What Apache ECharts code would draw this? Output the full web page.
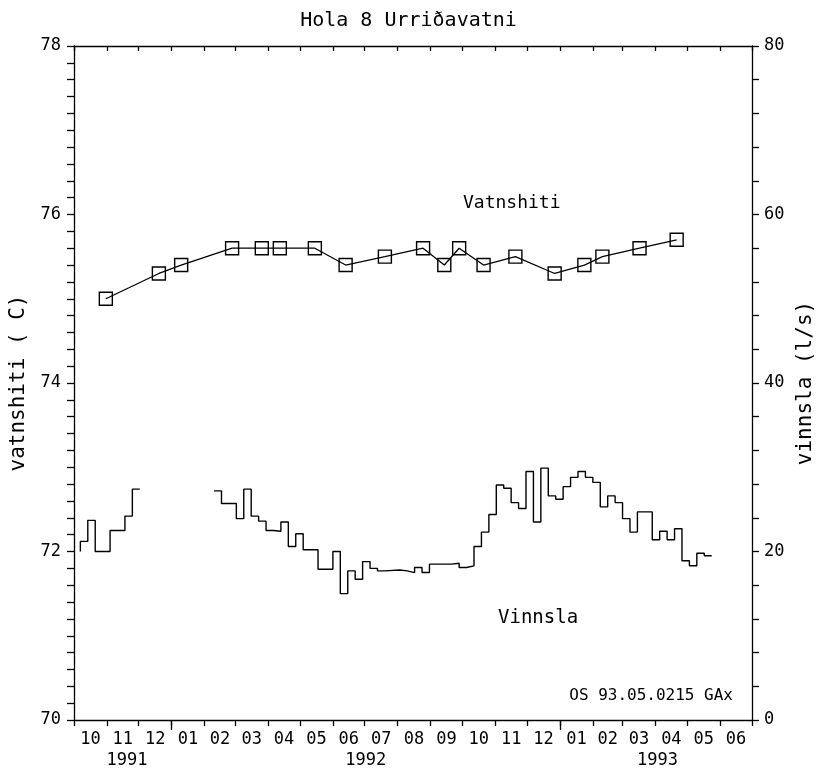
<!DOCTYPE html>
<html>
<head>
<meta charset="utf-8">
<title>Hola 8 Urriðavatni</title>
<script src="https://cdn.jsdelivr.net/npm/echarts@6/dist/echarts.min.js"></script>
<style>
  html, body { margin: 0; padding: 0; background: #fff; }
  #chart { width: 817px; height: 775px; }
</style>
</head>
<body>
<div id="chart"></div>
<script>
// Month boundaries of the time axis and the month numbers shown between them
const monthStarts = [
  '1991-10-01', '1991-11-01', '1991-12-01', '1992-01-01', '1992-02-01', '1992-03-01',
  '1992-04-01', '1992-05-01', '1992-06-01', '1992-07-01', '1992-08-01', '1992-09-01',
  '1992-10-01', '1992-11-01', '1992-12-01', '1993-01-01', '1993-02-01', '1993-03-01',
  '1993-04-01', '1993-05-01', '1993-06-01', '1993-07-01'
];
const monthLabels = [
  '10', '11', '12', '01', '02', '03', '04', '05', '06', '07', '08',
  '09', '10', '11', '12', '01', '02', '03', '04', '05', '06'
];
const yearStarts = ['1992-01-01', '1993-01-01'];
const yearLabelDates = ['1991-11-20', '1992-07-02', '1993-04-03'];
const yearLabels = ['1991', '1992', '1993'];

// Water temperature (C), single measurements
const tempDates = [
  '1991-10-31', '1991-12-20', '1992-01-10', '1992-02-27', '1992-03-26', '1992-04-12',
  '1992-05-15', '1992-06-13', '1992-07-20', '1992-08-25', '1992-09-14', '1992-09-28',
  '1992-10-21', '1992-11-20', '1992-12-27', '1993-01-24', '1993-02-10', '1993-03-17',
  '1993-04-21'
];
const tempValues = [
  75.0, 75.3, 75.4, 75.6, 75.6, 75.6,
  75.6, 75.4, 75.5, 75.6, 75.4, 75.6,
  75.4, 75.5, 75.3, 75.4, 75.5, 75.6,
  75.7
];

// Production (l/s), weekly values held until the next date; null marks the data gap
const flowDates = [
  '1991-10-07', '1991-10-07', '1991-10-14', '1991-10-21', '1991-11-04', '1991-11-18',
  '1991-11-25', '1991-12-02', '1991-12-02',
  '1992-02-10', '1992-02-17', '1992-03-02', '1992-03-09', '1992-03-16', '1992-03-23',
  '1992-03-30', '1992-04-06', '1992-04-13', '1992-04-20', '1992-04-27', '1992-05-04',
  '1992-05-18', '1992-06-01', '1992-06-08', '1992-06-15', '1992-06-22', '1992-06-29',
  '1992-07-06', '1992-07-13', '1992-07-20', '1992-08-03', '1992-08-10', '1992-08-17',
  '1992-08-24', '1992-08-31', '1992-09-21', '1992-09-28', '1992-10-05', '1992-10-12',
  '1992-10-19', '1992-10-26', '1992-11-02', '1992-11-09', '1992-11-16', '1992-11-23',
  '1992-11-30', '1992-12-07', '1992-12-14', '1992-12-21', '1992-12-28', '1993-01-04',
  '1993-01-11', '1993-01-18', '1993-01-25', '1993-02-01', '1993-02-08', '1993-02-15',
  '1993-02-22', '1993-03-01', '1993-03-08', '1993-03-15', '1993-03-29', '1993-04-05',
  '1993-04-12', '1993-04-19', '1993-04-26', '1993-05-03', '1993-05-10', '1993-05-17',
  '1993-05-24'
];
const flowValues = [
  20.0, 21.2, 23.7, 20.0, 22.5, 24.2,
  27.4, 27.4, null,
  27.2, 25.7, 23.9, 27.4, 24.2, 23.6,
  22.5, 22.4, 23.5, 20.6, 22.1, 20.2,
  17.9, 20.0, 15.0, 17.7, 16.7, 18.8,
  18.0, 17.7, 17.8, 17.7, 17.5, 18.1,
  17.5, 18.5, 18.6, 18.1, 18.3, 20.6,
  22.3, 24.4, 27.9, 27.5, 25.8, 25.1,
  29.5, 23.5, 29.9, 26.6, 26.2, 27.7,
  28.8, 29.5, 28.8, 28.2, 25.3, 26.6,
  25.8, 23.9, 22.3, 24.7, 21.4, 22.4,
  21.4, 22.7, 18.9, 18.3, 19.8, 19.5,
  19.5
];

const FONT = 'DejaVu Sans Mono';
const INK = '#000';
// dates become day numbers (UTC) on a plain value axis
const DAY = 86400000;
const ts = s => Date.parse(s + 'T00:00:00Z') / DAY;

const tickTimes = monthStarts.map(ts);
const labelTimes = [];
const labelByTime = {};
for (let i = 0; i < monthLabels.length; i++) {
  const mid = (tickTimes[i] + tickTimes[i + 1]) / 2;
  labelTimes.push(mid);
  labelByTime[mid] = monthLabels[i];
}
const yearTimes = yearLabelDates.map(ts);
const yearByTime = {};
yearTimes.forEach((t, i) => { yearByTime[t] = yearLabels[i]; });

const xMin = tickTimes[0];
const xMax = tickTimes[tickTimes.length - 1];

const tempData = tempDates.map((d, i) => [ts(d), tempValues[i]]);
const flowData = flowDates.map((d, i) => [ts(d), flowValues[i]]);

const lineStyle = { color: INK, width: 1.3 };
const labelFont = { color: INK, fontFamily: FONT, fontSize: 17 };

const chart = echarts.init(document.getElementById('chart'), null, { renderer: 'canvas' });

chart.setOption({
  backgroundColor: '#fff',
  animation: false,
  title: {
    text: 'Hola 8 Urriðavatni',
    left: 'center',
    top: 6,
    textStyle: { color: INK, fontFamily: FONT, fontSize: 20, fontWeight: 'normal' }
  },
  grid: { left: 74, right: 65, top: 46, bottom: 55, outerBoundsMode: 'none', containLabel: false },
  xAxis: [
    {
      type: 'value', min: xMin, max: xMax, position: 'bottom',
      axisLine: { show: true, lineStyle },
      axisTick: { show: true, inside: false, length: 6, customValues: tickTimes, lineStyle },
      axisLabel: {
        show: true, margin: 11, customValues: labelTimes, hideOverlap: false,
        formatter: v => labelByTime[v] || '', ...labelFont
      },
      splitLine: { show: false }
    },
    {
      type: 'value', min: xMin, max: xMax, position: 'bottom',
      axisLine: { show: false },
      axisTick: { show: true, inside: false, length: 10, customValues: yearStarts.map(ts), lineStyle },
      axisLabel: {
        show: true, margin: 32, customValues: yearTimes, hideOverlap: false,
        formatter: v => yearByTime[v] || '', ...labelFont
      },
      splitLine: { show: false }
    },
    {
      type: 'value', min: xMin, max: xMax, position: 'top',
      axisLine: { show: true, lineStyle },
      axisTick: { show: true, inside: true, length: 5, customValues: tickTimes, lineStyle },
      axisLabel: { show: false },
      splitLine: { show: false }
    }
  ],
  yAxis: [
    {
      type: 'value', min: 70, max: 78, interval: 2, position: 'left',
      name: 'vatnshiti ( C)', nameLocation: 'middle', nameGap: 45, nameRotate: 90,
      nameTextStyle: { color: INK, fontFamily: FONT, fontSize: 21 },
      axisLine: { show: true, lineStyle },
      axisTick: { show: true, inside: false, length: 7, lineStyle },
      minorTick: { show: true, splitNumber: 10, length: 7, lineStyle },
      axisLabel: { margin: 13, ...labelFont },
      splitLine: { show: false }
    },
    {
      type: 'value', min: 0, max: 80, interval: 20, position: 'right',
      name: 'vinnsla (l/s)', nameLocation: 'middle', nameGap: 36, nameRotate: 90,
      nameTextStyle: { color: INK, fontFamily: FONT, fontSize: 21 },
      axisLine: { show: true, lineStyle },
      axisTick: { show: true, inside: false, length: 7, lineStyle },
      minorTick: { show: true, splitNumber: 5, length: 7, lineStyle },
      axisLabel: { margin: 12, ...labelFont },
      splitLine: { show: false }
    }
  ],
  graphic: [
    {
      type: 'text', left: 463, top: 194,
      style: { text: 'Vatnshiti', fill: INK, font: '18px "DejaVu Sans Mono"' }
    },
    {
      type: 'text', left: 498, top: 609,
      style: { text: 'Vinnsla', fill: INK, font: '19px "DejaVu Sans Mono"' }
    },
    {
      type: 'text', right: 84, top: 688,
      style: { text: 'OS 93.05.0215 GAx', fill: INK, font: '16px "DejaVu Sans Mono"' }
    }
  ],
  series: [
    {
      name: 'Vatnshiti', type: 'line', xAxisIndex: 0, yAxisIndex: 0,
      data: tempData,
      symbol: 'rect', symbolSize: 13,
      itemStyle: { color: 'rgba(0,0,0,0)', borderColor: INK, borderWidth: 1.4 },
      lineStyle
    },
    {
      name: 'Vinnsla', type: 'line', xAxisIndex: 0, yAxisIndex: 1,
      data: flowData, step: 'end', connectNulls: false,
      showSymbol: false, symbol: 'none',
      lineStyle: { color: INK, width: 1.4 }
    }
  ]
});
</script>
</body>
</html>
